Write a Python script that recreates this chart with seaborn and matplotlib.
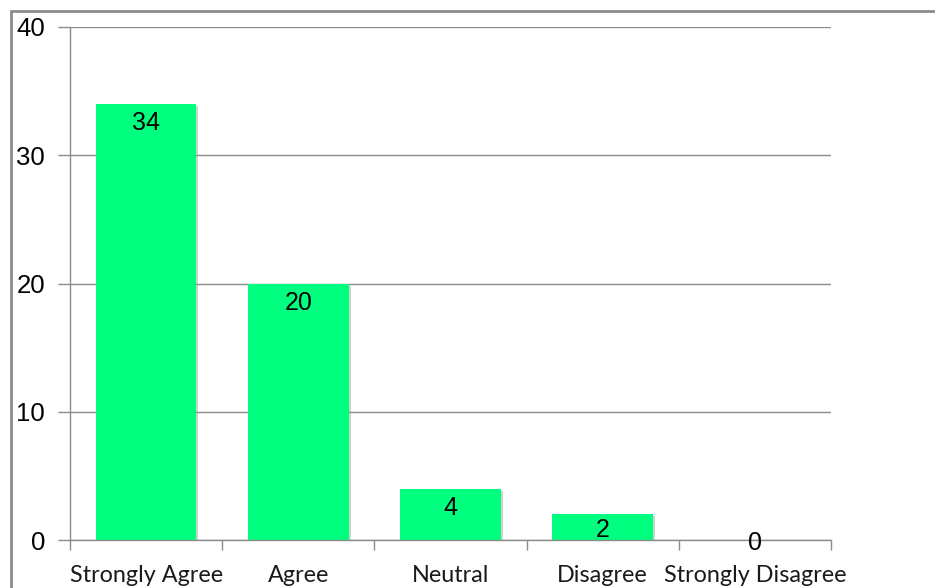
import matplotlib
matplotlib.use("Agg")
import matplotlib.pyplot as plt
import matplotlib.patheffects as pe
from matplotlib.patches import Rectangle
import seaborn as sns
import pandas as pd

categories = ["Strongly Agree", "Agree", "Neutral", "Disagree", "Strongly Disagree"]
counts = [34, 20, 4, 2, 0]
y_ticks = [0, 10, 20, 30, 40]

sns.set_theme(style="white")
plt.rcParams["font.family"] = ["Liberation Sans", "DejaVu Sans"]

W, H = 935, 588
fig = plt.figure(figsize=(W / 100, H / 100), dpi=100)
ax = fig.add_axes([70 / W, 1 - 540 / H, (831 - 70) / W, (540 - 27) / H])

df = pd.DataFrame({"category": categories, "count": counts})
sns.barplot(data=df, x="category", y="count", color="#00FF7F", saturation=1,
            width=0.66, ax=ax, zorder=3)

for bar in ax.patches:
    bar.set_edgecolor("none")
    bar.set_path_effects([pe.SimplePatchShadow(offset=(1.5, -1.5), shadow_rgbFace="#999999",
                                               alpha=0.45), pe.Normal()])

ax.set_ylim(0, 40)
ax.set_xlim(-0.5, len(categories) - 0.5)
ax.set_yticks(y_ticks)
ax.set_yticklabels([str(t) for t in y_ticks], fontsize=18.5,
                   family=["Liberation Sans", "DejaVu Sans"], color="black")
ax.yaxis.grid(True, color="#8c8c8c", linewidth=1.0, zorder=0)
ax.set_axisbelow(True)
ax.tick_params(axis="y", length=9, width=1, color="#8c8c8c", pad=9, left=True)

# category labels at centres, tick marks at slot boundaries
ax.set_xticks(range(len(categories)))
ax.set_xticklabels(categories, fontsize=16.8, family=["Lato", "DejaVu Sans"], color="#1a1a1a")
ax.tick_params(axis="x", which="major", length=0, pad=18)
ax.set_xticks([i - 0.5 for i in range(len(categories) + 1)], minor=True)
ax.tick_params(axis="x", which="minor", length=7, width=1, color="#8c8c8c", bottom=True)
ax.set_xlabel("")
ax.set_ylabel("")

for side in ["top", "right"]:
    ax.spines[side].set_visible(False)
for side in ["left", "bottom"]:
    ax.spines[side].set_color("#8c8c8c")
    ax.spines[side].set_linewidth(1.0)
    ax.spines[side].set_zorder(4)

# value labels just inside the top of each bar
px_per_unit = (540 - 27) / 40
for i, v in enumerate(counts):
    h = v * px_per_unit
    off = min(19.5, h / 2 + 3)
    ax.annotate(str(v), xy=(i, v), xytext=(0, -off * 72 / 100), textcoords="offset points",
                ha="center", va="center", fontsize=18, color="black", zorder=5,
                family=["Liberation Sans", "DejaVu Sans"])

# outer chart frame
fig.patches.append(Rectangle((10.5 / W, -0.1), 1.2, 1 - 10.5 / H + 0.1,
                             transform=fig.transFigure, fill=False,
                             edgecolor="#8c8c8c", linewidth=2.0))

fig.savefig("out.png", dpi=100)
